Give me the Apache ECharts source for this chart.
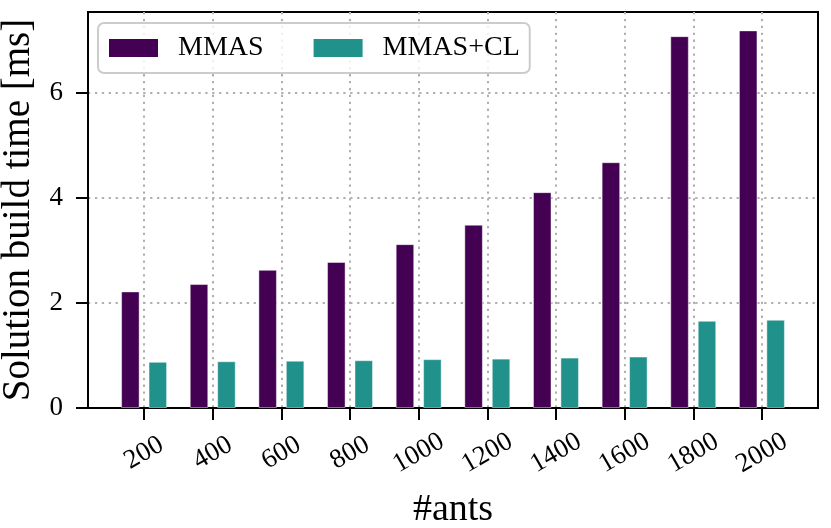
<!DOCTYPE html>
<html>
<head>
<meta charset="utf-8">
<script src="https://cdn.jsdelivr.net/npm/echarts@6/dist/echarts.min.js"></script>
<style>html,body{margin:0;padding:0;background:#fff}#c{width:831px;height:528px}</style>
</head>
<body>
<div id="c"></div>
<script>
const categories = ['200','400','600','800','1000','1200','1400','1600','1800','2000'];
const mmas = [2.22, 2.36, 2.63, 2.78, 3.12, 3.49, 4.11, 4.68, 7.08, 7.19];
const mmasCL = [0.88, 0.89, 0.90, 0.91, 0.93, 0.94, 0.96, 0.98, 1.66, 1.68];
const yTicks = [0, 2, 4, 6];
const seriesNames = ['MMAS', 'MMAS+CL'];

const FONT = 'Liberation Serif';
const pad = 0.817;
const xPositions = categories.map((c, i) => i);
const gridLine = {show: true, lineStyle: {color: '#b0b0b0', width: 2, type: [2.3, 4.6]}};

const chart = echarts.init(document.getElementById('c'), null, {renderer: 'canvas'});
chart.setOption({
  animation: false,
  backgroundColor: '#fff',
  grid: {left: 88, right: 13, top: 12, bottom: 120, containLabel: false, outerBoundsMode: 'none',
         show: true, borderColor: '#000', borderWidth: 2, backgroundColor: 'transparent'},
  legend: {
    left: 98, top: 23,
    data: seriesNames,
    icon: 'rect',
    itemWidth: 49, itemHeight: 18, itemGap: 50,
    padding: [11, 10, 11, 11],
    backgroundColor: 'rgba(255,255,255,0.8)',
    borderColor: '#cccccc', borderWidth: 2, borderRadius: 6,
    textStyle: {fontFamily: FONT, fontSize: 28, color: '#000', padding: [0, 0, 0, 15]},
    itemStyle: {borderWidth: 0}
  },
  xAxis: {
    type: 'value',
    min: -pad, max: categories.length - 1 + pad,
    name: '#ants', nameLocation: 'middle', nameGap: 83,
    nameTextStyle: {fontFamily: FONT, fontSize: 38, color: '#000'},
    axisLine: {show: true, onZero: false, lineStyle: {color: '#000', width: 2}},
    axisTick: {show: true, customValues: xPositions, length: 12, lineStyle: {color: '#000', width: 2}},
    axisLabel: {
      customValues: xPositions,
      formatter: v => categories[Math.round(v)],
      rotate: 30, align: 'center', verticalAlign: 'middle', margin: 45,
      fontFamily: FONT, fontSize: 27, color: '#000'
    },
    splitLine: gridLine
  },
  yAxis: {
    type: 'value',
    min: 0, max: 7.54,
    name: 'Solution build time [ms]', nameLocation: 'middle', nameGap: 46,
    nameTextStyle: {fontFamily: FONT, fontSize: 39, color: '#000'},
    axisLine: {show: true, onZero: false, lineStyle: {color: '#000', width: 2}},
    axisTick: {show: true, customValues: yTicks, length: 12, lineStyle: {color: '#000', width: 2}},
    axisLabel: {customValues: yTicks, margin: 25, fontFamily: FONT, fontSize: 27, color: '#000'},
    splitLine: gridLine
  },
  series: [
    {
      name: seriesNames[0], type: 'bar',
      data: mmas.map((v, i) => [i, v]),
      barWidth: '27%', barGap: '48%',
      itemStyle: {color: '#440154', borderColor: 'rgba(255,255,255,0.45)', borderWidth: 1},
      z: 3
    },
    {
      name: seriesNames[1], type: 'bar',
      data: mmasCL.map((v, i) => [i, v]),
      barWidth: '27%', barGap: '48%',
      itemStyle: {color: '#21918c', borderColor: 'rgba(255,255,255,0.45)', borderWidth: 1},
      z: 3
    }
  ]
});
</script>
</body>
</html>
